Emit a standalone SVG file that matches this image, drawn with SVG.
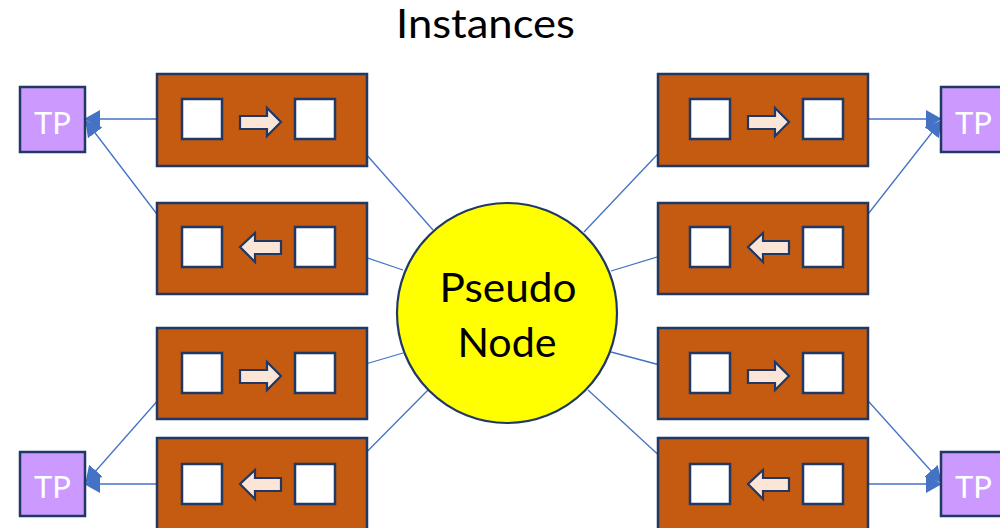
<svg xmlns="http://www.w3.org/2000/svg" width="1000" height="528" viewBox="0 0 1000 528">
<style>
.inst{fill:#C55A11;stroke:#203864;stroke-width:2.5}
.port{fill:#FFFFFF;stroke:#203864;stroke-width:2.5}
.dir{fill:#FBE5D6;stroke:#203864;stroke-width:2.2;stroke-linejoin:miter}
.tp{fill:#CC99FF;stroke:#203864;stroke-width:2.5}
.tpt{font-family:Lato,"Liberation Sans",sans-serif;font-size:31px;fill:#FFFFFF;text-anchor:middle}
.big{font-family:Lato,"Liberation Sans",sans-serif;font-size:40px;fill:#000000;text-anchor:middle}
.ln{stroke:#4472C4;stroke-width:1.3;fill:none}
.ar{stroke:#4472C4;stroke-width:1.3;fill:none;marker-end:url(#ah)}
</style>
<defs>
<marker id="ah" markerUnits="userSpaceOnUse" markerWidth="16" markerHeight="18" viewBox="0 0 16 18" refX="15" refY="9" orient="auto">
<path d="M0,0 L16,9 L0,18 z" fill="#4472C4"/>
</marker>
<g id="ra"><path class="dir" d="M240,116 L267,116 L267,108 L281,122 L267,136 L267,129 L240,129 z"/></g>
<g id="la"><path class="dir" d="M281,241 L255,241 L255,233 L240,247 L255,262 L255,254 L281,254 z"/></g>
</defs>
<rect width="1000" height="528" fill="#FFFFFF"/>
<text id="title" class="big" x="485.5" y="37.5" textLength="179" lengthAdjust="spacingAndGlyphs">Instances</text>

<g id="connectors">
<line class="ar" x1="182" y1="119" x2="85" y2="119"/>
<line class="ar" x1="182" y1="247" x2="86" y2="121"/>
<line class="ar" x1="182" y1="373" x2="86" y2="482"/>
<line class="ar" x1="182" y1="484" x2="85" y2="484"/>
<line class="ar" x1="843" y1="119" x2="941" y2="119"/>
<line class="ar" x1="843" y1="246" x2="941" y2="121"/>
<line class="ar" x1="843" y1="373" x2="941" y2="482"/>
<line class="ar" x1="843" y1="484" x2="941" y2="484"/>
<line class="ln" x1="335" y1="119" x2="433" y2="230"/>
<line class="ln" x1="335" y1="247" x2="403" y2="270"/>
<line class="ln" x1="335" y1="373" x2="403" y2="353"/>
<line class="ln" x1="335" y1="484" x2="428" y2="390"/>
<line class="ln" x1="690" y1="120" x2="584" y2="232"/>
<line class="ln" x1="690" y1="247" x2="611" y2="271"/>
<line class="ln" x1="690" y1="373" x2="611" y2="352"/>
<line class="ln" x1="690" y1="484" x2="588" y2="390"/>
</g>

<g id="inst-l1">
<rect class="inst" x="157" y="74" width="210" height="92"/>
<rect class="port" x="182" y="99" width="40" height="40"/>
<rect class="port" x="295" y="99" width="40" height="40"/>
<use href="#ra"/>
</g>
<g id="inst-l2">
<rect class="inst" x="157" y="203" width="210" height="91"/>
<rect class="port" x="182" y="227" width="40" height="40"/>
<rect class="port" x="295" y="227" width="40" height="40"/>
<use href="#la"/>
</g>
<g id="inst-l3">
<rect class="inst" x="157" y="328" width="210" height="91"/>
<rect class="port" x="182" y="353" width="40" height="40"/>
<rect class="port" x="295" y="353" width="40" height="40"/>
<use href="#ra" transform="translate(0,254)"/>
</g>
<g id="inst-l4">
<rect class="inst" x="157" y="438" width="210" height="92"/>
<rect class="port" x="182" y="464" width="40" height="40"/>
<rect class="port" x="295" y="464" width="40" height="40"/>
<use href="#la" transform="translate(0,237)"/>
</g>

<g id="inst-r1">
<rect class="inst" x="658" y="74" width="210" height="92"/>
<rect class="port" x="690" y="99" width="40" height="40"/>
<rect class="port" x="803" y="99" width="40" height="40"/>
<use href="#ra" transform="translate(508,0)"/>
</g>
<g id="inst-r2">
<rect class="inst" x="658" y="203" width="210" height="91"/>
<rect class="port" x="690" y="227" width="40" height="40"/>
<rect class="port" x="803" y="227" width="40" height="40"/>
<use href="#la" transform="translate(508,0)"/>
</g>
<g id="inst-r3">
<rect class="inst" x="658" y="328" width="210" height="91"/>
<rect class="port" x="690" y="353" width="40" height="40"/>
<rect class="port" x="803" y="353" width="40" height="40"/>
<use href="#ra" transform="translate(508,254)"/>
</g>
<g id="inst-r4">
<rect class="inst" x="658" y="438" width="210" height="92"/>
<rect class="port" x="690" y="464" width="40" height="40"/>
<rect class="port" x="803" y="464" width="40" height="40"/>
<use href="#la" transform="translate(508,237)"/>
</g>

<g id="tp-tl">
<rect class="tp" x="20" y="87" width="65" height="65"/>
<text class="tpt" x="52.5" y="134">TP</text>
</g>
<g id="tp-bl">
<rect class="tp" x="20" y="452" width="65" height="64"/>
<text class="tpt" x="52.5" y="498">TP</text>
</g>
<g id="tp-tr">
<rect class="tp" x="941" y="87" width="65" height="65"/>
<text class="tpt" x="973.5" y="134">TP</text>
</g>
<g id="tp-br">
<rect class="tp" x="941" y="452" width="65" height="64"/>
<text class="tpt" x="973.5" y="498">TP</text>
</g>

<g id="pseudo-node">
<circle cx="507" cy="313" r="110" fill="#FFFF00" stroke="#203864" stroke-width="2.2"/>
<text class="big" x="508" y="301.5" textLength="137" lengthAdjust="spacingAndGlyphs">Pseudo</text>
<text class="big" x="507" y="356.5" textLength="99" lengthAdjust="spacingAndGlyphs">Node</text>
</g>
</svg>
